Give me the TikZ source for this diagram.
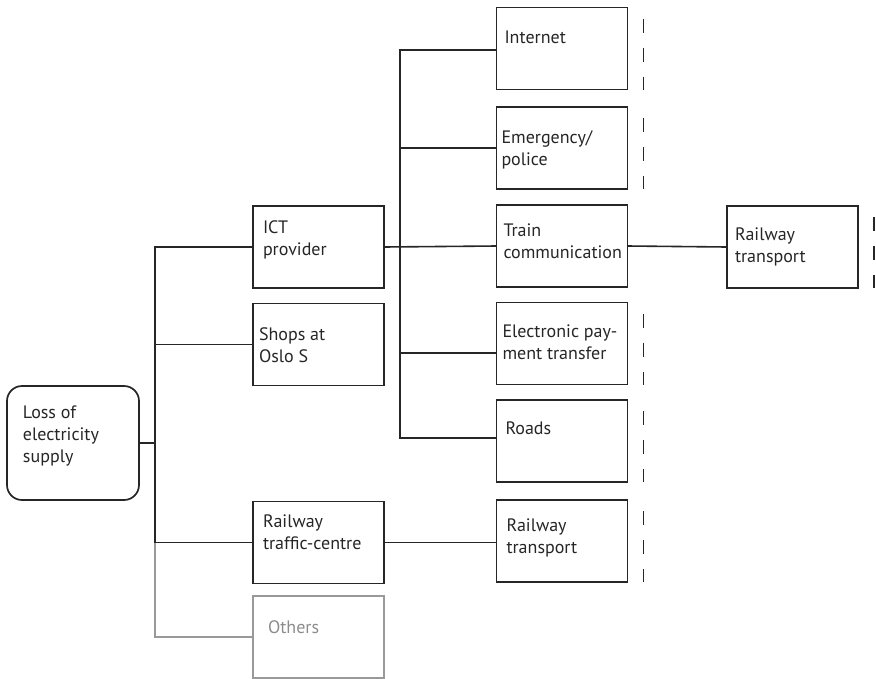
\documentclass[tikz,border=0pt]{standalone}
\usepackage{fontspec}
\setmainfont{PT Sans}
\begin{document}
\begin{tikzpicture}[x=1pt,y=-1pt,
  every node/.style={inner sep=0pt, outer sep=0pt},
  box/.style={draw=black!85, line width=1.7pt, minimum width=131pt, minimum height=82pt},
  rootbox/.style={box, rounded corners=15pt, minimum width=132pt, minimum height=114pt},
  faintbox/.style={box, draw=black!40},
  txt/.style={anchor=base west, align=left, font=\fontsize{18}{22}\selectfont, text=black!85},
  fainttxt/.style={txt, text=black!45},
  link/.style={draw=black!85, line width=1.6pt},
  faintlink/.style={draw=black!40, line width=1.6pt},
  cutmark/.style={draw=black!85, line width=1.8pt, dash pattern=on 14pt off 15pt}]
\useasboundingbox (0,0) rectangle (876,678);

% boxes
\node[rootbox]  (root)     at (73,443)    {};
\node[box]      (ict)      at (318.5,247) {};
\node[box]      (shops)    at (318.5,344.5) {};
\node[box]      (traffic)  at (318.5,542.5) {};
\node[faintbox] (others)   at (318.5,637) {};
\node[box]      (internet) at (562,48.5)  {};
\node[box]      (emerg)    at (562,148)   {};
\node[box]      (train)    at (562,246)   {};
\node[box]      (payment)  at (562,343.5) {};
\node[box]      (roads)    at (562,441)   {};
\node[box]      (rail)     at (562,541)   {};
\node[box]      (railR)    at (792.5,247) {};

% labels inside the boxes (anchored on the baseline of their last line)
\node[txt] (root-t)     at ([shift={(16,76.5)}]root.north west)     {Loss of\\electricity\\supply};
\node[txt] (ict-t)      at ([shift={(10,49.5)}]ict.north west)      {ICT\\provider};
\node[txt] (shops-t)    at ([shift={(6,58.5)}]shops.north west)     {Shops at\\Oslo S};
\node[txt] (traffic-t)  at ([shift={(10,47.5)}]traffic.north west)  {Railway\\traffic-centre};
\node[fainttxt] (others-t) at ([shift={(15,37.5)}]others.north west) {Others};
\node[txt] (internet-t) at ([shift={(8,36)}]internet.north west)    {Internet};
\node[txt] (emerg-t)    at ([shift={(5,58)}]emerg.north west)       {Emergency/\\police};
\node[txt] (train-t)    at ([shift={(7,53)}]train.north west)       {Train\\communication};
\node[txt] (payment-t)  at ([shift={(6,56.5)}]payment.north west)   {Electronic pay-\\ment transfer};
\node[txt] (roads-t)    at ([shift={(9,34)}]roads.north west)       {Roads};
\node[txt] (rail-t)     at ([shift={(10,53)}]rail.north west)       {Railway\\transport};
\node[txt] (railR-t)    at ([shift={(8,56)}]railR.north west)       {Railway\\transport};

% junctions on the two vertical trunks
\coordinate (j1) at (155,443);
\coordinate (j2) at (400,247);

% first level
\draw[link] (root.east) -- (j1);
\draw[link] (ict.west) -| (j1);
\draw[link] (traffic.west) -| (j1);
\draw[link] (shops.west) -- (shops.west -| j1);
\draw[faintlink] (others.west) -| (traffic.west -| j1);

% second level
\draw[link] (ict.east) -- (train.west);
\draw[link] ([yshift=-1.5pt]internet.west) -| (j2);
\draw[link] ([yshift=3pt]roads.west) -| (j2);
\draw[link] (emerg.west) -- (emerg.west -| j2);
\draw[link] ([yshift=-9.5pt]payment.west) -- ([yshift=-9.5pt]payment.west -| j2);
\draw[link] (train.east) -- (railR.west);
\draw[link] (traffic.west -| traffic.east) -- (traffic.west -| rail.west);

% cut-off marks
\foreach \b in {internet,emerg,payment,roads,rail,railR}
  \draw[cutmark] ([shift={(16,11)}]\b.north east) -- ([xshift=16pt]\b.south east);
\end{tikzpicture}
\end{document}
